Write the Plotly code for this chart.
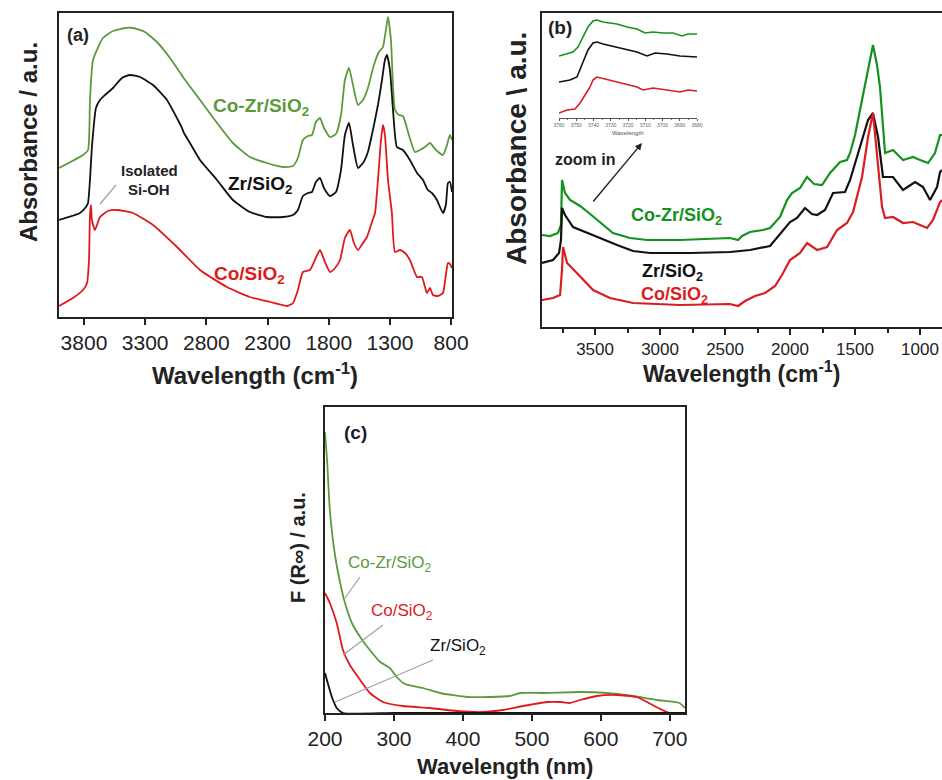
import plotly.graph_objects as go

W, H = 942, 780
def PX(x):
    return x / W
def PY(y):
    return 1 - y / H

FONT = "Arial, 'Liberation Sans', sans-serif"

# ---------------- Panel (a): FTIR ----------------
a_cozr_wn = [4004, 3808, 3767, 3751, 3726, 3645, 3563, 3465, 3400, 3302, 3204, 3097, 2991, 2852, 2713,
             2583, 2444, 2305, 2174, 2092, 2052, 2011, 1970, 1937, 1905, 1872, 1839, 1790, 1741, 1700,
             1668, 1635, 1602, 1561, 1520, 1480, 1431, 1390, 1357, 1333, 1316, 1292, 1259, 1227, 1194,
             1145, 1096, 1055, 1014, 973, 924, 867, 834, 810, 793]
a_cozr_abs = [1.49, 1.62, 1.67, 2.17, 2.57, 2.79, 2.86, 2.89, 2.89, 2.85, 2.75, 2.59, 2.40, 2.17, 1.94,
              1.74, 1.60, 1.54, 1.50, 1.51, 1.59, 1.77, 1.81, 1.82, 1.95, 1.99, 1.89, 1.80, 1.83, 2.02,
              2.37, 2.49, 2.32, 2.12, 2.17, 2.29, 2.52, 2.65, 2.70, 2.87, 3.00, 2.77, 2.07, 2.02, 2.01,
              1.82, 1.65, 1.67, 1.70, 1.74, 1.67, 1.62, 1.72, 1.82, 1.77]

a_zr_wn = [4004, 3833, 3784, 3767, 3751, 3735, 3702, 3669, 3628, 3563, 3490, 3424, 3342, 3236, 3122,
           3032, 2999, 2983, 2934, 2852, 2713, 2583, 2444, 2305, 2174, 2092, 2052, 2011, 1970, 1937,
           1905, 1872, 1839, 1790, 1741, 1700, 1668, 1635, 1602, 1561, 1520, 1480, 1439, 1398, 1365,
           1341, 1324, 1300, 1275, 1243, 1194, 1137, 1079, 1030, 990, 957, 916, 867, 843, 826, 810, 793]
a_zr_abs = [0.97, 1.04, 1.10, 1.14, 1.37, 1.70, 2.09, 2.17, 2.22, 2.29, 2.39, 2.42, 2.40, 2.32, 2.17,
            1.97, 1.89, 1.84, 1.74, 1.57, 1.37, 1.17, 1.05, 1.00, 1.00, 1.02, 1.07, 1.21, 1.24, 1.25,
            1.35, 1.39, 1.29, 1.21, 1.25, 1.47, 1.82, 1.94, 1.72, 1.49, 1.54, 1.65, 1.87, 2.12, 2.37,
            2.57, 2.62, 2.47, 2.07, 1.70, 1.67, 1.57, 1.44, 1.37, 1.27, 1.24, 1.17, 1.04, 1.12, 1.34, 1.35, 1.25]

a_co_wn = [4004, 3890, 3808, 3775, 3759, 3751, 3743, 3735, 3710, 3669, 3604, 3530, 3400, 3236, 3040,
           2852, 2632, 2444, 2280, 2141, 2092, 2052, 2011, 1954, 1913, 1872, 1831, 1790, 1749, 1708,
           1668, 1627, 1594, 1561, 1520, 1488, 1447, 1422, 1398, 1373, 1357, 1341, 1316, 1284, 1259,
           1218, 1177, 1137, 1079, 1039, 998, 973, 949, 908, 867, 843, 826, 810, 793]
a_co_abs = [0.11, 0.19, 0.27, 0.34, 0.57, 1.02, 1.12, 0.97, 0.87, 1.00, 1.06, 1.07, 1.04, 0.92, 0.70,
            0.47, 0.30, 0.20, 0.15, 0.11, 0.14, 0.27, 0.45, 0.47, 0.57, 0.67, 0.55, 0.45, 0.49, 0.57,
            0.79, 0.87, 0.74, 0.67, 0.74, 0.80, 0.95, 1.04, 1.37, 1.77, 1.92, 1.82, 1.37, 1.04, 0.65,
            0.67, 0.64, 0.57, 0.40, 0.40, 0.24, 0.29, 0.22, 0.21, 0.24, 0.42, 0.54, 0.53, 0.49]

a_ticks = [3800, 3300, 2800, 2300, 1800, 1300, 800]

# ---------------- Panel (b): DRIFTS ----------------
b_cozr_wn = [3908, 3846, 3785, 3762, 3754, 3731, 3692, 3615, 3538, 3485, 3362, 3231, 3100, 2846, 2615,
             2462, 2400, 2369, 2308, 2208, 2154, 2077, 2023, 1985, 1923, 1869, 1815, 1754, 1692, 1615,
             1562, 1538, 1500, 1462, 1408, 1362, 1331, 1308, 1269, 1208, 1131, 1054, 1000, 938, 885, 846, 831]
b_cozr_abs = [0.92, 0.91, 0.94, 1.02, 1.47, 1.34, 1.27, 1.21, 1.13, 1.07, 0.94, 0.89, 0.87, 0.87, 0.88,
              0.89, 0.87, 0.91, 0.95, 0.97, 0.99, 1.10, 1.27, 1.34, 1.39, 1.50, 1.43, 1.42, 1.54, 1.65,
              1.67, 1.74, 1.92, 2.17, 2.50, 2.82, 2.62, 2.40, 1.74, 1.77, 1.67, 1.70, 1.67, 1.64, 1.74, 1.92, 1.92]

b_zr_wn = [3908, 3823, 3777, 3762, 3754, 3731, 3669, 3562, 3462, 3331, 3208, 3077, 2769, 2462, 2308,
           2154, 2077, 2000, 1946, 1885, 1831, 1792, 1731, 1669, 1577, 1538, 1462, 1400, 1362, 1323,
           1285, 1208, 1131, 1038, 977, 923, 869, 846, 831]
b_zr_abs = [0.64, 0.67, 0.74, 0.87, 1.19, 1.12, 1.00, 0.94, 0.89, 0.82, 0.76, 0.74, 0.74, 0.75, 0.77,
            0.81, 0.93, 1.05, 1.09, 1.19, 1.13, 1.12, 1.17, 1.34, 1.35, 1.47, 1.80, 2.07, 2.14, 1.90,
            1.50, 1.50, 1.37, 1.45, 1.40, 1.27, 1.40, 1.55, 1.57]

b_co_wn = [3908, 3823, 3769, 3754, 3746, 3715, 3677, 3592, 3515, 3385, 3208, 2846, 2462, 2400, 2346,
           2269, 2192, 2115, 2062, 2000, 1923, 1869, 1792, 1715, 1638, 1562, 1515, 1446, 1400, 1362,
           1331, 1292, 1269, 1208, 1131, 1054, 1000, 946, 900, 846, 831]
b_co_abs = [0.27, 0.29, 0.32, 0.57, 0.80, 0.64, 0.59, 0.47, 0.37, 0.29, 0.24, 0.22, 0.23, 0.21, 0.26,
            0.31, 0.34, 0.41, 0.52, 0.67, 0.74, 0.84, 0.77, 0.80, 0.97, 1.04, 1.15, 1.50, 1.90, 2.14,
            1.74, 1.20, 1.09, 1.10, 1.04, 1.05, 1.02, 0.99, 1.07, 1.25, 1.27]

# Inset (zoom in on the isolated Si-OH band)
ins_wn = [3760, 3755.4, 3751.9, 3749.0, 3746.1, 3743.2, 3740.3, 3738.0, 3734.5, 3730.4, 3726.4,
          3720.6, 3714.8, 3710.1, 3705.5, 3699.7, 3693.9, 3688.7, 3685.2, 3680]
ins_cozr = [0.62, 0.64, 0.66, 0.71, 0.81, 0.91, 0.97, 0.98, 0.96, 0.95, 0.94,
            0.91, 0.89, 0.85, 0.86, 0.85, 0.85, 0.82, 0.84, 0.84]
ins_zr_wn = [3760, 3753.6, 3749.6, 3746.7, 3743.2, 3740.3, 3738.0, 3734.5, 3729.3, 3722.9, 3714.8,
             3709.0, 3704.3, 3697.4, 3689.9, 3680]
ins_zr = [0.36, 0.38, 0.41, 0.53, 0.68, 0.75, 0.76, 0.74, 0.72, 0.69, 0.66,
          0.62, 0.65, 0.64, 0.62, 0.61]
ins_co_wn = [3760, 3755.4, 3750.7, 3747.8, 3744.9, 3742.0, 3740.3, 3738.0, 3733.3, 3728.7, 3722.9,
             3714.8, 3711.3, 3705.5, 3697.4, 3689.9, 3685.2, 3680]
ins_co = [0.05, 0.08, 0.09, 0.15, 0.23, 0.31, 0.38, 0.41, 0.39, 0.37, 0.35,
          0.31, 0.28, 0.30, 0.28, 0.26, 0.28, 0.27]
ins_ticks = [3760, 3750, 3740, 3730, 3720, 3710, 3700, 3690, 3680]

# ---------------- Panel (c): UV-vis DRS ----------------
c_cozr_nm = [200, 203, 207, 214, 222, 229, 239, 251, 265, 280, 294, 304, 316, 342, 367, 406, 439,
             468, 483, 516, 570, 609, 646, 681, 714, 722]
c_cozr_f = [2.81, 2.53, 2.03, 1.60, 1.30, 1.10, 0.90, 0.76, 0.63, 0.51, 0.45, 0.36, 0.29, 0.25, 0.20,
            0.16, 0.16, 0.17, 0.20, 0.20, 0.21, 0.20, 0.17, 0.13, 0.10, 0.05]
c_co_nm = [200, 207, 217, 226, 236, 251, 265, 284, 313, 352, 391, 429, 458, 487, 522, 541, 555, 570,
           594, 623, 652, 667, 686, 700, 722]
c_co_f = [1.20, 1.10, 0.90, 0.63, 0.48, 0.33, 0.20, 0.11, 0.07, 0.05, 0.02, 0.01, 0.03, 0.07, 0.11,
          0.11, 0.10, 0.13, 0.17, 0.18, 0.16, 0.11, 0.04, 0.00, 0.00]
c_zr_nm = [200, 204, 210, 217, 226, 300, 500, 722]
c_zr_f = [0.40, 0.30, 0.16, 0.05, 0.00, 0.00, 0.00, 0.00]
c_ticks = [200, 300, 400, 500, 600, 700]

# colours
GREEN_A = "#5c9a3e"
RED_A = "#e0191e"
GREEN_B = "#14911e"
RED_B = "#d81e22"
BLACK = "#111111"

fig = go.Figure()

def add(x, y, color, xa, ya, width=1.8, shape="spline"):
    fig.add_trace(go.Scatter(x=x, y=y, mode="lines", xaxis=xa, yaxis=ya,
                             line=dict(color=color, width=width, shape=shape, smoothing=0.5),
                             showlegend=False, hoverinfo="skip"))

add(a_cozr_wn, a_cozr_abs, GREEN_A, "x", "y")
add(a_zr_wn, a_zr_abs, BLACK, "x", "y")
add(a_co_wn, a_co_abs, RED_A, "x", "y")

add(b_cozr_wn, b_cozr_abs, GREEN_B, "x2", "y2", 2.2, "linear")
add(b_zr_wn, b_zr_abs, BLACK, "x2", "y2", 2.2, "linear")
add(b_co_wn, b_co_abs, RED_B, "x2", "y2", 2.2, "linear")

add(ins_wn, ins_cozr, GREEN_B, "x4", "y4", 1.6, "linear")
add(ins_zr_wn, ins_zr, BLACK, "x4", "y4", 1.6, "linear")
add(ins_co_wn, ins_co, RED_B, "x4", "y4", 1.6, "linear")

add(c_cozr_nm, c_cozr_f, GREEN_A, "x3", "y3")
add(c_co_nm, c_co_f, RED_A, "x3", "y3")
add(c_zr_nm, c_zr_f, BLACK, "x3", "y3")

axline = dict(showline=True, linecolor="#222222", linewidth=2, showgrid=False, zeroline=False,
              automargin=False)

fig.update_layout(
    width=W, height=H, margin=dict(l=0, r=0, t=0, b=0, autoexpand=False),
    paper_bgcolor="white", plot_bgcolor="white",
    font=dict(family=FONT, color="#222222"),
    xaxis=dict(domain=[PX(59), PX(452)], range=[4004, 793], anchor="y", mirror=True,
               tickvals=a_ticks, ticks="outside", ticklen=6, tickwidth=1.5, tickcolor="#222222",
               tickfont=dict(size=21, color="#222222"), **axline),
    yaxis=dict(domain=[PY(317), PY(13)], range=[0, 3.04], anchor="x", mirror=True,
               showticklabels=False, ticks="", **axline),
    xaxis2=dict(domain=[PX(542), 1.0], range=[3908, 831], anchor="y2", mirror=True,
                dtick=500, tick0=0, ticks="outside", ticklen=6, tickwidth=1.5, tickcolor="#222222",
                minor=dict(dtick=250, ticks="outside", ticklen=4, tickcolor="#222222"),
                tickfont=dict(size=17, color="#222222"), **axline),
    yaxis2=dict(domain=[PY(327), PY(13)], range=[0, 3.14], anchor="x2", mirror=False,
                showticklabels=False, ticks="", **axline),
    xaxis3=dict(domain=[PX(325), PX(685)], range=[200, 722], anchor="y3", mirror=True,
                tickvals=c_ticks, ticks="outside", ticklen=6, tickwidth=1.5, tickcolor="#222222",
                tickfont=dict(size=21, color="#222222"), **axline),
    yaxis3=dict(domain=[PY(713), PY(407)], range=[0, 3.06], anchor="x3", mirror=True,
                showticklabels=False, ticks="", **axline),
    xaxis4=dict(domain=[PX(559), PX(697)], range=[3760, 3680], anchor="y4", automargin=False,
                showline=True, linecolor="#555555", linewidth=1, showgrid=False, zeroline=False,
                tickvals=ins_ticks, ticktext=[str(v) for v in ins_ticks], ticks="outside",
                ticklen=2, tickcolor="#555555", tickfont=dict(size=5, color="#666666"),
                minor=dict(dtick=5, ticks="outside", ticklen=1, tickcolor="#777777")),
    yaxis4=dict(domain=[PY(118), PY(15)], range=[0, 1.03], anchor="x4", visible=False,
                automargin=False),
)

anns = []
def txt(x, y, text, size, color="#222222", bold=True, angle=0):
    anns.append(dict(x=PX(x), y=PY(y), xref="paper", yref="paper", showarrow=False,
                     text=("<b>%s</b>" % text) if bold else text, textangle=angle,
                     font=dict(size=size, color=color, family=FONT),
                     xanchor="center", yanchor="middle"))

SIO2 = "SiO<sub>2</sub>"
# panel (a)
txt(78, 35, "(a)", 18)
txt(261, 107, "Co-Zr/" + SIO2, 19, GREEN_A)
txt(260, 185, "Zr/" + SIO2, 19, BLACK)
txt(249, 275, "Co/" + SIO2, 19, RED_A)
txt(149, 170, "Isolated", 15)
txt(149, 189, "Si-OH", 15)
txt(255, 374, "Wavelength (cm<sup>-1</sup>)", 24)
txt(28, 142, "Absorbance / a.u.", 24, angle=-90)
# panel (b)
txt(560, 28, "(b)", 19)
txt(585, 160, "zoom in", 16)
txt(676, 216, "Co-Zr/" + SIO2, 18, GREEN_B)
txt(672, 272, "Zr/" + SIO2, 18, BLACK)
txt(674, 295, "Co/" + SIO2, 18, RED_B)
txt(742, 372, "Wavelength (cm<sup>-1</sup>)", 23)
txt(516, 149, "Absorbance \\ a.u.", 28, angle=-90)
txt(627, 133, "Wavelength", 6, "#555555", bold=False)
# panel (c)
txt(355, 432, "(c)", 19, "#1a1a2a")
txt(390, 564, "Co-Zr/" + SIO2, 17, GREEN_A, bold=False)
txt(402, 612, "Co/" + SIO2, 17, RED_A, bold=False)
txt(458, 647, "Zr/" + SIO2, 17, BLACK, bold=False)
txt(505, 766, "Wavelength (nm)", 22)
txt(298, 548, "F (R∞) / a.u.", 20, angle=-90)

# zoom-in arrow
anns.append(dict(x=PX(642), y=PY(143), xref="paper", yref="paper", ax=-50, ay=60,
                 axref="pixel", ayref="pixel", showarrow=True, arrowhead=2, arrowsize=1,
                 arrowwidth=1.4, arrowcolor="#222222", text=""))
fig.update_layout(annotations=anns)

# gray leader lines
leaders = [((100, 204), (116, 185)),
           ((345, 598), (360, 577)),
           ((343, 655), (383, 625)),
           ((335, 702), (433, 660))]
for (x0, y0), (x1, y1) in leaders:
    fig.add_shape(type="line", xref="paper", yref="paper", x0=PX(x0), y0=PY(y0), x1=PX(x1), y1=PY(y1),
                  line=dict(color="#a0a0a0", width=1.2))

fig.write_html("out.html")
